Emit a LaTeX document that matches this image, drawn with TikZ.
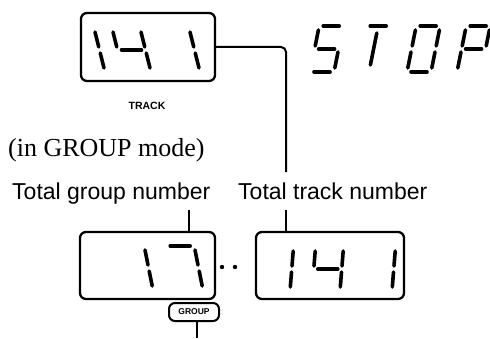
\documentclass[tikz,border=0pt]{standalone}
\usepackage{fontspec}
\setmainfont{Liberation Serif}
\setsansfont{Liberation Sans}
\usetikzlibrary{positioning}

% seven segment glyph parts, origin at lower left of the cell
\tikzset{
  seg w/.store in=\segw, seg h/.store in=\segh,
  seg w=28, seg h=44,
  seg a/.style={insert path={(4,\segh) -- (\segw-4,\segh)}},
  seg b/.style={insert path={(\segw,\segh-4) -- (\segw,\segh/2+3)}},
  seg c/.style={insert path={(\segw,\segh/2-3) -- (\segw,4)}},
  seg d/.style={insert path={(4,0) -- (\segw-4,0)}},
  seg e/.style={insert path={(0,\segh/2-3) -- (0,4)}},
  seg f/.style={insert path={(0,\segh-4) -- (0,\segh/2+3)}},
  seg g/.style={insert path={(4,\segh/2) -- (\segw-4,\segh/2)}},
  seg t/.style={insert path={(\segw/2,\segh-7) -- (\segw/2,7)}},
}
\newcommand{\lcdchar}[4][]{%
  \begin{scope}[shift={(#2,#3)}, #1]
    \foreach \s in {#4} {\draw[segline, seg \s];}
  \end{scope}}

\begin{document}
\begin{tikzpicture}[x=1pt, y=1pt,
  lcdbox/.style={draw, line width=2.3pt, rounded corners=6pt, inner sep=0pt},
  segline/.style={line width=3.6pt, line cap=round},
  conn/.style={line width=2pt},
  lbl/.style={inner sep=0pt, anchor=base west, font=\sffamily\fontsize{23}{26}\selectfont},
]
  \useasboundingbox (0,0) rectangle (490,338);

  % displays
  \node[lcdbox, minimum width=134pt, minimum height=68pt] (trackdisp) at (148,291) {};
  \node[lcdbox, minimum width=135pt, minimum height=67pt] (groupdisp) at (147.5,72.5) {};
  \node[lcdbox, minimum width=148pt, minimum height=67pt] (totaldisp) at (330,72.5) {};

  % 141 in the track display
  \lcdchar[xslant=-0.25]{77}{266}{b,c}
  \lcdchar[xslant=-0.25]{123}{266}{f,g,b,c}
  \lcdchar[xslant=-0.25]{172}{266}{b,c}

  % STOP
  \lcdchar[xslant=0.2, seg w=24, seg h=46]{310}{266}{a,f,g,c,d}
  \lcdchar[xslant=0.2, seg w=24, seg h=46]{357}{266}{a,t}
  \lcdchar[xslant=0.2, seg w=24, seg h=46]{407}{266}{a,b,c,d,e,f}
  \lcdchar[xslant=0.2, seg w=24, seg h=46]{457}{266}{a,b,f,g,e}

  % 17 and 141 in GROUP mode
  \lcdchar[xslant=-0.2]{125}{48}{b,c}
  \lcdchar[xslant=-0.2]{175}{48}{a,b,c}
  \lcdchar[xslant=0.08]{262}{47}{b,c}
  \lcdchar[xslant=0.08]{312}{47}{f,g,b,c}
  \lcdchar[xslant=0.08]{364}{47}{b,c}
  \fill (222,71) circle (2.2) (235,71) circle (2.2);

  % labels
  \node[font=\sffamily\bfseries\fontsize{10.5}{12}\selectfont, anchor=base] (tracklbl) at (147,228) {TRACK};
  \node[lbl, font=\rmfamily\fontsize{26}{30}\selectfont] (modelbl) at (8,182) {(in GROUP mode)};
  \node[lbl] (grouplbl) at (12,139) {Total group number};
  \node[lbl] (totallbl) at (238,139) {Total track number};
  \node[draw, line width=2pt, rounded corners=6pt, minimum width=50pt, minimum height=18pt, inner sep=0pt,
    font=\sffamily\bfseries\fontsize{8.5}{10}\selectfont] (groupbadge) at (194,26) {GROUP};

  % leaders
  \coordinate (trackend) at (286,166);
  \coordinate (groupmark) at (189,128);
  \coordinate (totalmark) at (286,128);
  \coordinate (badgeend) at (197,0);
  \draw[conn, rounded corners=5pt] (trackdisp.east) -| (trackend);
  \draw[conn] (groupmark) -- (groupmark |- groupdisp.north);
  \draw[conn] (totalmark) -- (totalmark |- totaldisp.north);
  \draw[conn] (badgeend |- groupbadge.south) -- (badgeend);
\end{tikzpicture}
\end{document}
